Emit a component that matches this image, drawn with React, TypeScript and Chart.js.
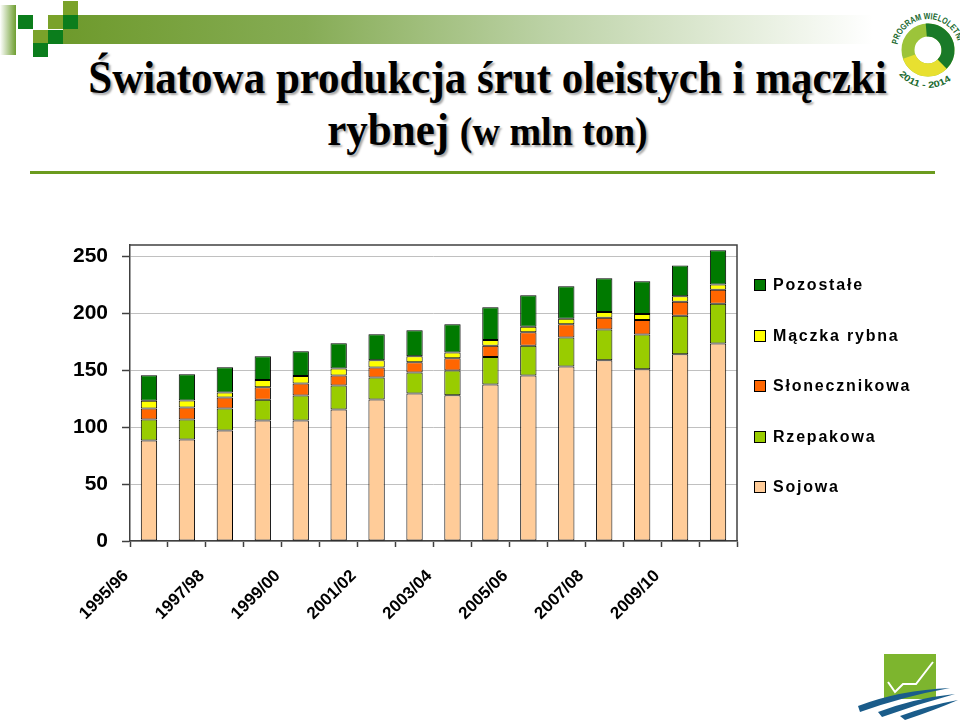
import React, { useEffect, useRef } from "react";
import { Chart, registerables } from "chart.js";
Chart.register(...registerables);

const categories = [
  "1995/96", "1996/97", "1997/98", "1998/99", "1999/00", "2000/01", "2001/02", "2002/03",
  "2003/04", "2004/05", "2005/06", "2006/07", "2007/08", "2008/09", "2009/10", "2010/11",
];
const sojowa = [88.3, 89.2, 97.1, 105.8, 105.8, 115.5, 124.3, 129.5, 128.1, 137.4, 145.3, 153.2, 158.8, 150.9, 164.0, 173.4];
const rzepakowa = [18.4, 17.5, 19.3, 18.2, 22.0, 21.0, 19.3, 18.5, 21.6, 24.3, 26.3, 25.5, 26.9, 30.4, 33.9, 35.1];
const slonecznikowa = [9.7, 10.6, 9.6, 11.1, 10.5, 8.8, 8.7, 9.0, 10.8, 9.9, 11.7, 11.7, 10.5, 12.9, 12.3, 12.3];
const maczkaRybna = [6.7, 6.1, 4.4, 6.4, 6.7, 6.2, 6.5, 5.3, 5.0, 5.0, 5.0, 4.9, 5.0, 5.2, 4.7, 4.6];
const pozostale = [22.5, 23.1, 22.2, 20.8, 21.7, 22.2, 22.8, 22.8, 24.9, 28.7, 27.5, 28.4, 29.5, 28.7, 27.2, 29.9];
const yTicks = [0, 50, 100, 150, 200, 250];

const seriesNames = ["Sojowa", "Rzepakowa", "Słonecznikowa", "Mączka rybna", "Pozostałe"];
const seriesColors = ["#FFCC99", "#99CC00", "#FF6600", "#FFFF00", "#007A00"];
const seriesData = [sojowa, rzepakowa, slonecznikowa, maczkaRybna, pozostale];

const SANS = "'Liberation Sans', Arial, sans-serif";
const SERIF = "'Liberation Serif', 'Times New Roman', serif";

const framePlugin = {
  id: "frame",
  afterDatasetsDraw(chart: any) {
    const { ctx, chartArea: a } = chart;
    ctx.save();
    ctx.strokeStyle = "#404040";
    ctx.lineWidth = 1.5;
    ctx.beginPath();
    ctx.moveTo(a.left, a.top);
    ctx.lineTo(a.right, a.top);
    ctx.lineTo(a.right, a.bottom);
    ctx.stroke();
    ctx.restore();
  },
};

function ChartCanvas() {
  const ref = useRef<HTMLCanvasElement | null>(null);
  useEffect(() => {
    if (!ref.current) return;
    const chart = new Chart(ref.current, {
      type: "bar",
      data: {
        labels: categories,
        datasets: seriesNames.map((name, i) => ({
          label: name,
          data: seriesData[i],
          backgroundColor: seriesColors[i],
          borderColor: "#000000",
          borderWidth: 1,
          borderSkipped: false,
          categoryPercentage: 1,
          barPercentage: 0.43,
        })),
      },
      options: {
        animation: false,
        responsive: false,
        maintainAspectRatio: false,
        layout: { padding: { left: 0, top: 245, right: 223, bottom: 0 } },
        plugins: { legend: { display: false }, tooltip: { enabled: false }, title: { display: false } },
        scales: {
          x: {
            stacked: true,
            offset: true,
            afterFit: (s: any) => { s.height = 180; },
            grid: { offset: true, drawOnChartArea: false, drawTicks: true, tickLength: 6, tickColor: "#404040", tickWidth: 1.5 },
            border: { display: true, color: "#404040", width: 1.5 },
            ticks: {
              autoSkip: false,
              minRotation: 45,
              maxRotation: 45,
              color: "#000",
              padding: 19,
              labelOffset: -23,
              font: { family: SANS, size: 17, weight: "bold" },
              callback: (_v: any, i: number) => (i % 2 === 0 ? categories[i] : ""),
            },
          },
          y: {
            stacked: true,
            min: 0,
            max: 260,
            afterFit: (s: any) => { s.width = 130; },
            afterBuildTicks: (s: any) => { s.ticks = yTicks.map((v) => ({ value: v })); },
            grid: { color: "#C0C0C0", lineWidth: 1, drawTicks: true, tickLength: 8, tickColor: "#404040", tickWidth: 1.5 },
            border: { display: true, color: "#404040", width: 1.5 },
            ticks: {
              color: "#000",
              padding: 14,
              font: { family: SANS, size: 21, weight: "bold" },
            },
          },
        },
      },
      plugins: [framePlugin],
    });
    return () => chart.destroy();
  }, []);
  return <canvas ref={ref} width={960} height={721} style={{ position: "absolute", left: 0, top: 0 }} />;
}

function Legend() {
  const order = [4, 3, 2, 1, 0];
  const ys = [285, 336, 386, 437, 487];
  return (
    <>
      {order.map((si, k) => (
        <div key={si} style={{ position: "absolute", left: 754, top: ys[k] - 12, height: 24, display: "flex", alignItems: "center" }}>
          <div style={{ width: 10, height: 10, background: seriesColors[si], border: "1px solid #000", marginRight: 7 }} />
          <span style={{ fontFamily: SANS, fontSize: 16, fontWeight: "bold", letterSpacing: "1.8px", color: "#000" }}>{seriesNames[si]}</span>
        </div>
      ))}
    </>
  );
}

function Decorations() {
  const olive = "#7AA22A";
  const dark = "#0B7D1C";
  const squares: [number, number, string][] = [
    [63, 1, olive], [18, 15, dark], [48, 15, olive], [63, 15, dark],
    [33, 30, olive], [48, 30, dark], [33, 43, dark],
  ];
  const cx = 928, cy = 50, r = 20;
  const circ = 2 * Math.PI * r;
  return (
    <>
      <div style={{ position: "absolute", left: 0, top: 5, width: 16, height: 50, background: "linear-gradient(to right, #ffffff, #6E9E30)" }} />
      <div style={{ position: "absolute", left: 63, top: 15, width: 810, height: 29, background: "linear-gradient(to right, #6E9A2C 0%, #86AC55 30%, #BCD2A6 60%, #ffffff 100%)" }} />
      {squares.map(([x, y, c], i) => (
        <div key={i} style={{ position: "absolute", left: x, top: y, width: 15, height: 14, background: c }} />
      ))}
      <div style={{ position: "absolute", left: 30, top: 171, width: 905, height: 3, background: "#6B9B1E" }} />
      <svg width={960} height={721} style={{ position: "absolute", left: 0, top: 0 }}>
        <defs>
          <path id="arcTop" d="M 897.5 44.6 A 31 31 0 0 1 957.9 42" />
          <path id="arcBot" d="M 898.9 74.4 A 38 38 0 0 0 957.1 74.4" />
        </defs>
        <circle cx={cx} cy={cy} r={r} fill="none" stroke="#9CC43A" strokeWidth={13} />
        <circle cx={cx} cy={cy} r={r} fill="none" stroke="#1A7A28" strokeWidth={13}
          strokeDasharray={`${(140 / 360) * circ} ${circ}`} transform={`rotate(-95 ${cx} ${cy})`} />
        <circle cx={cx} cy={cy} r={r} fill="none" stroke="#E8E030" strokeWidth={13}
          strokeDasharray={`${(115 / 360) * circ} ${circ}`} transform={`rotate(45 ${cx} ${cy})`} />
        <text fontFamily={SANS} fontSize={9} fontWeight="bold" fill="#1A6A30">
          <textPath href="#arcTop" textLength={82} lengthAdjust="spacingAndGlyphs">PROGRAM WIELOLETNI</textPath>
        </text>
        <text fontFamily={SANS} fontSize={9} fontWeight="bold" fill="#1A6A30">
          <textPath href="#arcBot" textLength={58} lengthAdjust="spacingAndGlyphs">2011 - 2014</textPath>
        </text>
        <rect x={884} y={654} width={52} height={45} fill="#7DB52E" />
        <polyline points="888,682 895,692 903,684 916,684 933,662" fill="none" stroke="#ffffff" strokeWidth={2} />
        <path d="M 858 706 Q 900 690 950 688 Q 905 696 860 712 Z" fill="#1A5C8A" />
        <path d="M 878 712 Q 915 698 955 694 Q 918 704 882 717 Z" fill="#1A5C8A" />
        <path d="M 900 716 Q 930 705 958 700 Q 935 710 905 720 Z" fill="#1A5C8A" />
      </svg>
    </>
  );
}

function Title() {
  const shadow = "2px 2px 2px rgba(0,0,0,0.35)";
  const base: React.CSSProperties = {
    position: "absolute", left: 0, width: 975, textAlign: "center", fontFamily: SERIF, fontWeight: "bold",
    color: "#000", textShadow: shadow, fontSize: 43, lineHeight: "50px", whiteSpace: "nowrap",
    transform: "scaleY(1.07)", transformOrigin: "50% 39.5px",
  };
  return (
    <>
      <div style={{ ...base, top: 53.5 }}>Światowa produkcja śrut oleistych i mączki</div>
      <div style={{ ...base, top: 105.5 }}>
        rybnej <span style={{ fontSize: 38 }}>(w mln ton)</span>
      </div>
    </>
  );
}

export default function App() {
  return (
    <div style={{ position: "fixed", left: 0, top: 0, width: 960, height: 721, background: "#fff", overflow: "hidden" }}>
      <Decorations />
      <Title />
      <ChartCanvas />
      <Legend />
    </div>
  );
}
